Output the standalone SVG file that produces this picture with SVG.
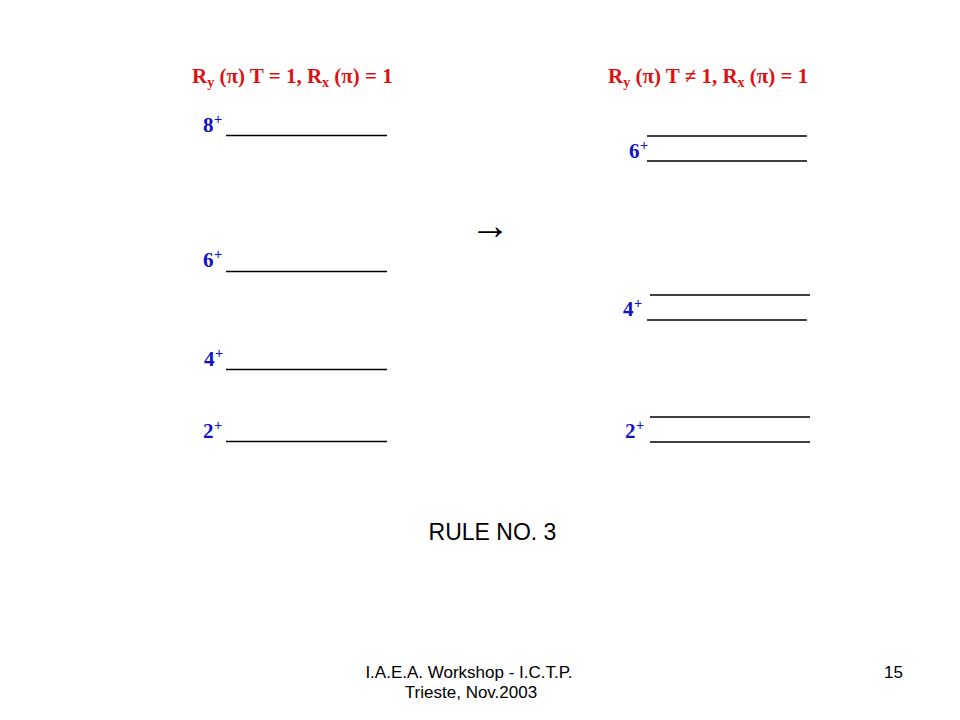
<svg xmlns="http://www.w3.org/2000/svg" width="960" height="720" viewBox="0 0 960 720">
<style>
.title{font-family:"Liberation Serif","Times New Roman",serif;font-weight:bold;font-size:21px;fill:#dd1111}
.sub{font-size:14px}
.lab{font-family:"Liberation Serif","Times New Roman",serif;font-weight:bold;font-size:21px;fill:#1111cc}
.sup{font-family:"Liberation Sans",Arial,sans-serif;font-size:14px;fill:#1111cc}
.lvl{stroke:#000;stroke-width:1.5;fill:none}
.sans{font-family:"Liberation Sans",Arial,sans-serif;fill:#000}
</style>
<rect width="960" height="720" fill="#fff"/>
<g id="title-left"><text class="title" x="192" y="83">R<tspan class="sub" dy="4">y</tspan><tspan dy="-4"> (π) T = 1, R</tspan><tspan class="sub" dy="4">x</tspan><tspan dy="-4"> (π) = 1</tspan></text></g>
<g id="title-right"><text class="title" x="608" y="83">R<tspan class="sub" dy="4">y</tspan><tspan dy="-4"> (π) T ≠ 1, R</tspan><tspan class="sub" dy="4">x</tspan><tspan dy="-4"> (π) = 1</tspan></text></g>

<g id="left-8"><text class="lab" x="203" y="132">8</text><text class="sup" x="214" y="124">+</text><line class="lvl" x1="226" y1="135.5" x2="387" y2="135.5"/></g>
<g id="left-6"><text class="lab" x="203" y="267">6</text><text class="sup" x="214" y="259">+</text><line class="lvl" x1="226" y1="271.5" x2="387" y2="271.5"/></g>
<g id="left-4"><text class="lab" x="204" y="366">4</text><text class="sup" x="215" y="358">+</text><line class="lvl" x1="226" y1="369.5" x2="387" y2="369.5"/></g>
<g id="left-2"><text class="lab" x="203" y="438">2</text><text class="sup" x="214" y="430">+</text><line class="lvl" x1="226" y1="441.5" x2="387" y2="441.5"/></g>

<g id="right-6"><text class="lab" x="629" y="158">6</text><text class="sup" x="640" y="150">+</text><line class="lvl" x1="647" y1="136" x2="807" y2="136"/><line class="lvl" x1="647" y1="161" x2="807" y2="161"/></g>
<g id="right-4"><text class="lab" x="623" y="316">4</text><text class="sup" x="634" y="308">+</text><line class="lvl" x1="650" y1="295" x2="810" y2="295"/><line class="lvl" x1="647" y1="320" x2="807" y2="320"/></g>
<g id="right-2"><text class="lab" x="625" y="438">2</text><text class="sup" x="636" y="430">+</text><line class="lvl" x1="650" y1="417" x2="810" y2="417"/><line class="lvl" x1="650" y1="442" x2="810" y2="442"/></g>

<g id="connectors"><text x="470" y="239" font-family="Liberation Serif,'Times New Roman',serif" font-size="40" fill="#000">→</text></g>

<g id="rule"><text class="sans" x="492.5" y="540" font-size="23" text-anchor="middle">RULE NO. 3</text></g>
<g id="footer">
<text class="sans" x="469" y="678" font-size="17" text-anchor="middle">I.A.E.A. Workshop - I.C.T.P.</text>
<text class="sans" x="471" y="698" font-size="17" text-anchor="middle">Trieste, Nov.2003</text>
<text class="sans" x="903" y="678" font-size="17" text-anchor="end">15</text>
</g>
</svg>
